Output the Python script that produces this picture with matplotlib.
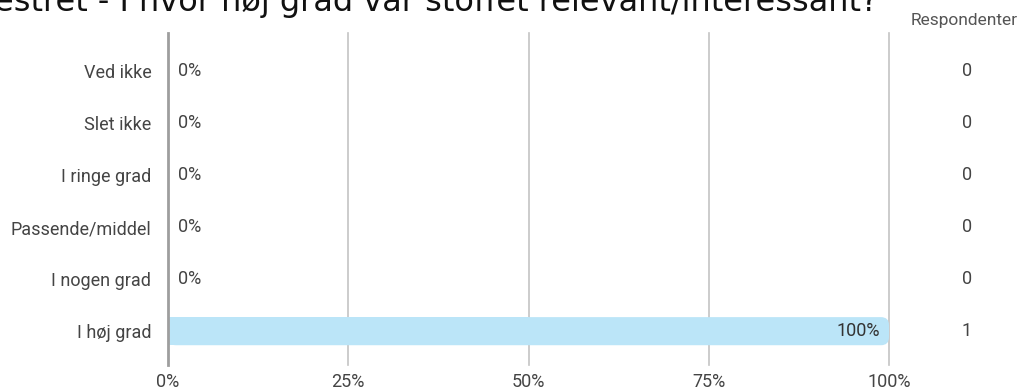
import matplotlib.pyplot as plt
from matplotlib.patches import FancyBboxPatch

categories = ['Ved ikke', 'Slet ikke', 'I ringe grad', 'Passende/middel', 'I nogen grad', 'I høj grad']
percent = [0, 0, 0, 0, 0, 100]
respondents = [0, 0, 0, 0, 0, 1]
ticks = [0, 25, 50, 75, 100]
title = 'estret - I hvor høj grad var stoffet relevant/interessant?'

plt.rcParams['font.family'] = ['Roboto', 'DejaVu Sans']
W, H = 1026, 392
fig = plt.figure(figsize=(W / 100, H / 100), dpi=100)
ax = fig.add_axes([168 / W, (H - 365) / H, (889 - 168) / W, 332 / H])

ax.set_xlim(0, 100)
ax.set_ylim(5.65, -0.73)
for s in ax.spines.values():
    s.set_visible(False)
for t in ticks[1:]:
    ax.axvline(t, color='#c4c4c4', lw=1.2, zorder=0, clip_on=False)
ax.axvline(0, color='#9e9e9e', lw=2, zorder=3, clip_on=False)

bar_h = 0.54
px_x = 100 / 721
px_y = 1 / 52
r = 8
for i, (cat, p) in enumerate(zip(categories, percent)):
    if p > 0:
        bars = ax.barh(i, p, height=bar_h, color='none')
        b = bars[0]
        x0, y0, w, h = b.get_x(), b.get_y(), b.get_width(), b.get_height()
        ax.add_patch(FancyBboxPatch((x0, y0), w, h,
                                    boxstyle=f'round,pad=0,rounding_size={r * px_x}',
                                    mutation_aspect=px_y / px_x,
                                    fc='#bbe5f8', ec='none', zorder=2))
        ax.add_patch(plt.Rectangle((x0, y0), w / 2, h, fc='#bbe5f8', ec='none', zorder=2))
        ax.text(p - 9 * px_x, i, f'{p}%', ha='right', va='center',
                fontsize=13, color='#333333', zorder=4)
    else:
        ax.text(10 * px_x, i, f'{p}%', ha='left', va='center',
                fontsize=13, color='#444444', zorder=4)

ax.set_yticks(range(len(categories)))
ax.set_yticklabels(categories, fontsize=13, color='#444444')
ax.set_xticks(ticks)
ax.set_xticklabels([f'{t}%' for t in ticks], fontsize=13, color='#444444')
ax.tick_params(length=0)
ax.tick_params(axis='y', pad=12)
ax.tick_params(axis='x', pad=6)

# respondents column
for i, n in enumerate(respondents):
    ax.text(967, ax.transData.transform((0, i))[1], str(n), transform=None,
            ha='center', va='center', fontsize=13, color='#444444')
fig.text(1018 / W, 1 - 20 / H, 'Respondenter', ha='right', va='center',
         fontsize=12.5, color='#555555')

fig.text(-6 / W, 1 - 10.5 / H, title, ha='left', va='baseline',
         fontsize=23, color='#111111', family='DejaVu Sans')

fig.savefig('out.png', dpi=100)
